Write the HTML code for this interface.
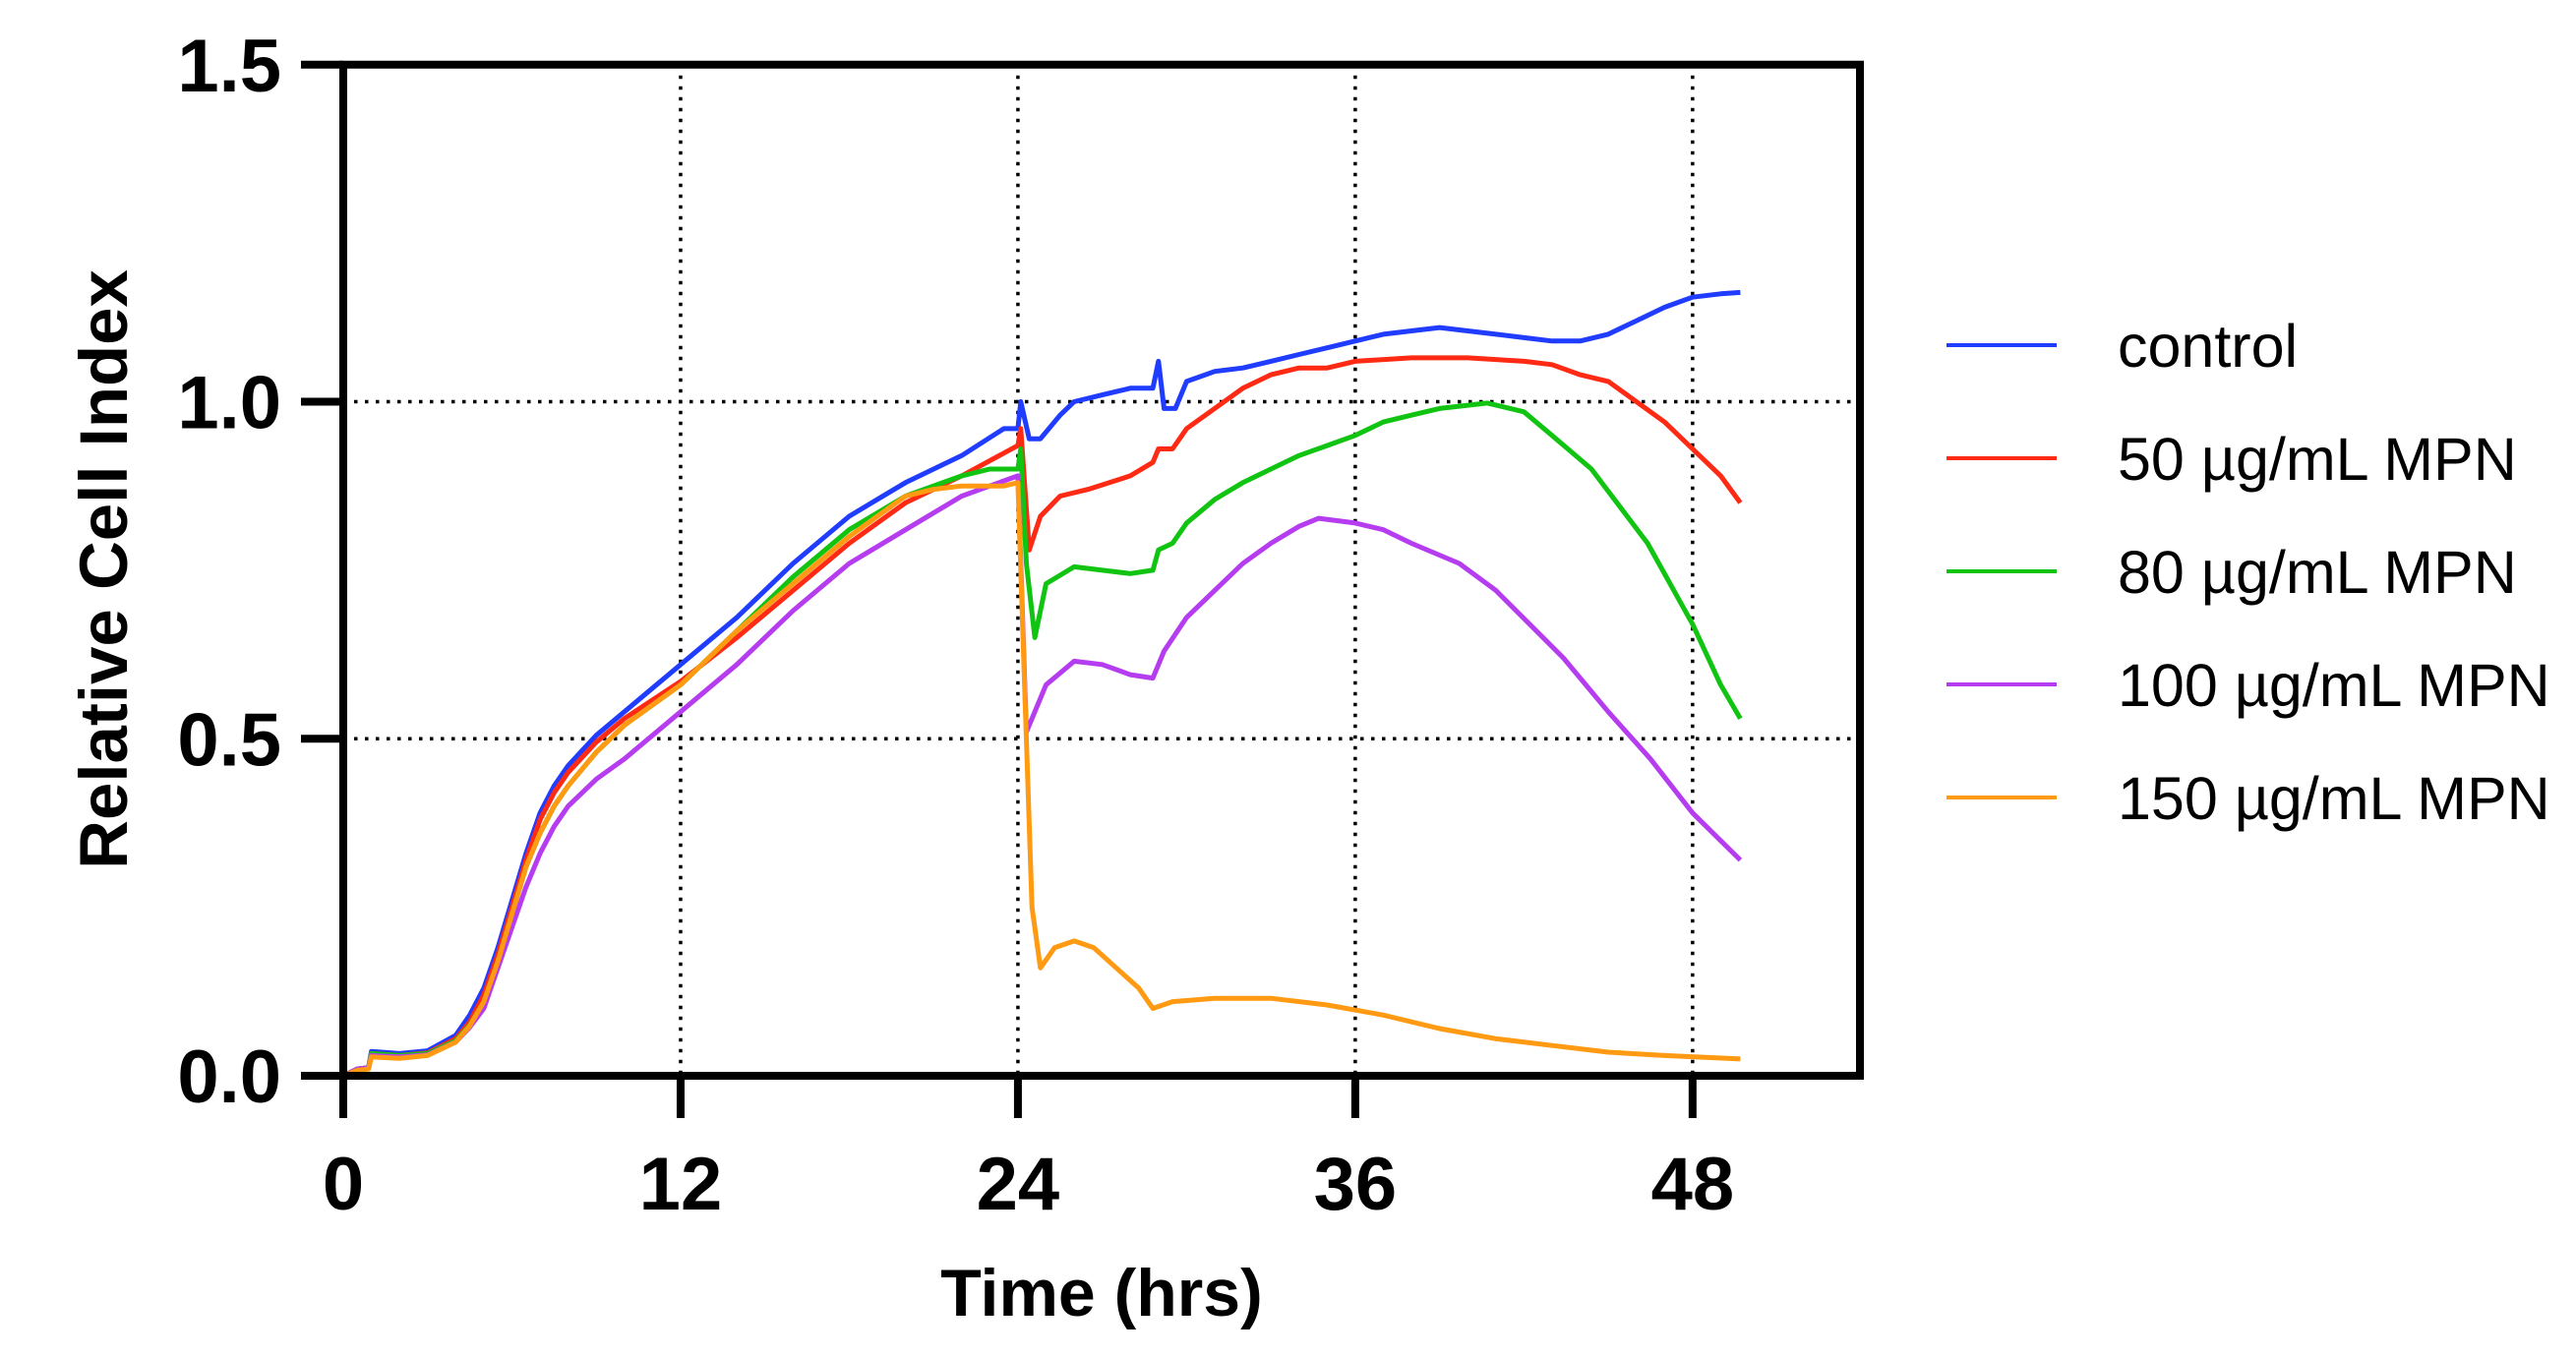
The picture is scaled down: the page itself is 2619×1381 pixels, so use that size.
<!DOCTYPE html>
<html><head><meta charset="utf-8"><style>
html,body{margin:0;padding:0;background:#fff;}
svg{display:block;}
text{font-family:"Liberation Sans",Arial,sans-serif;}
</style></head><body>
<svg id="chart" width="2619" height="1381" viewBox="0 0 2619 1381">
<g id="grid"></g>
<g id="series"></g>
<g id="axes"></g>
<g id="legend"></g>
</svg>
<script>
const xTicks = [0, 12, 24, 36, 48];
const yTicks = [0.0, 0.5, 1.0, 1.5];
const yTickLabels = ["0.0", "0.5", "1.0", "1.5"];
const seriesNames = ["control", "50 µg/mL MPN", "80 µg/mL MPN", "100 µg/mL MPN", "150 µg/mL MPN"];
const seriesColors = ["#1f3cff", "#ff2a14", "#12c412", "#b63cf0", "#ff9a12"];

const controlT = [0,0.5,0.9,1,2,3,4,4.5,5,5.5,6,6.5,7,7.5,8,9,10,12,14,16,18,20,22,23.5,24,24.1,24.4,24.8,25.5,26,27,28,28.8,29,29.2,29.6,30,31,32,33,34,35,36,37,38,39,40,41,42,43,44,45,46,47,48,49,49.7];
const controlV = [0,0.01,0.012,0.036,0.033,0.037,0.06,0.09,0.13,0.19,0.26,0.33,0.39,0.43,0.46,0.505,0.54,0.61,0.68,0.76,0.83,0.88,0.92,0.96,0.96,1.0,0.945,0.945,0.98,1.0,1.01,1.02,1.02,1.06,0.99,0.99,1.03,1.045,1.05,1.06,1.07,1.08,1.09,1.1,1.105,1.11,1.105,1.1,1.095,1.09,1.09,1.1,1.12,1.14,1.155,1.16,1.162];

const mpn50T = [0,0.5,0.9,1,2,3,4,4.5,5,5.5,6,6.5,7,7.5,8,9,10,12,14,16,18,20,22,24,24.1,24.4,24.8,25.5,26.5,28,28.8,29,29.5,30,31,32,33,34,35,36,38,40,42,43,44,45,46,47,48,49,49.7];
const mpn50V = [0,0.01,0.012,0.033,0.03,0.034,0.055,0.08,0.12,0.18,0.25,0.32,0.38,0.42,0.45,0.495,0.53,0.585,0.65,0.72,0.79,0.85,0.89,0.935,0.96,0.78,0.83,0.86,0.87,0.89,0.91,0.93,0.93,0.96,0.99,1.02,1.04,1.05,1.05,1.06,1.065,1.065,1.06,1.055,1.04,1.03,1.0,0.97,0.93,0.89,0.85];

const mpn80T = [0,0.5,0.9,1,2,3,4,4.5,5,5.5,6,6.5,7,7.5,8,9,10,12,14,16,18,20,22,23,24,24.1,24.3,24.6,25,26,27,28,28.8,29,29.5,30,31,32,33,34,35,36,37,38,39,40.7,42,43,44.4,46.4,48,49,49.7];
const mpn80V = [0,0.01,0.012,0.033,0.03,0.033,0.052,0.075,0.11,0.17,0.24,0.31,0.36,0.4,0.43,0.48,0.52,0.58,0.66,0.74,0.81,0.86,0.89,0.9,0.9,0.93,0.76,0.65,0.73,0.755,0.75,0.745,0.75,0.78,0.79,0.82,0.855,0.88,0.9,0.92,0.935,0.95,0.97,0.98,0.99,0.998,0.985,0.95,0.9,0.79,0.67,0.58,0.53];

const mpn100T = [0,0.5,0.9,1,2,3,4,4.5,5,5.5,6,6.5,7,7.5,8,9,10,12,14,16,18,20,22,23,24,24.3,25,26,27,28,28.8,29.2,30,31,32,33,34,34.7,36,37,38,39.7,41,43.4,45,46.5,48,49.7];
const mpn100V = [0,0.01,0.012,0.03,0.028,0.031,0.05,0.072,0.1,0.16,0.22,0.28,0.33,0.37,0.4,0.44,0.47,0.54,0.61,0.69,0.76,0.81,0.86,0.875,0.89,0.51,0.58,0.615,0.61,0.595,0.59,0.63,0.68,0.72,0.76,0.79,0.815,0.827,0.82,0.81,0.79,0.76,0.72,0.62,0.54,0.47,0.39,0.32];

const mpn150T = [0,0.5,0.9,1,2,3,4,4.5,5,5.5,6,6.5,7,7.5,8,9,10,12,14,16,18,20,21,22,23.5,24,24.3,24.5,24.8,25.3,26,26.7,27.5,28.3,28.8,29.5,31,33,35,37,39,41,43,45,47,49.7];
const mpn150V = [0,0.008,0.01,0.028,0.026,0.03,0.05,0.074,0.11,0.17,0.24,0.31,0.36,0.4,0.43,0.48,0.52,0.58,0.66,0.73,0.8,0.86,0.87,0.875,0.875,0.88,0.5,0.25,0.16,0.19,0.2,0.19,0.16,0.13,0.1,0.11,0.115,0.115,0.105,0.09,0.07,0.055,0.045,0.035,0.03,0.025];

const seriesT = [controlT, mpn50T, mpn80T, mpn100T, mpn150T];
const seriesV = [controlV, mpn50V, mpn80V, mpn100V, mpn150V];
const seriesKeys = ["control", "mpn-50", "mpn-80", "mpn-100", "mpn-150"];

const NS = "http://www.w3.org/2000/svg";
const X0 = 349, XS = 28.58, Y0 = 1094, YS = 685.5;
const xScale = t => X0 + t * XS;
const yScale = v => Y0 - v * YS;
const pLeft = 349, pRight = 1891, pTop = yScale(1.5), pBottom = Y0;

function mk(tag, attrs, parent) {
  const e = document.createElementNS(NS, tag);
  for (const k in attrs) e.setAttribute(k, attrs[k]);
  parent.appendChild(e);
  return e;
}
const gridG = document.getElementById('grid');
const axesG = document.getElementById('axes');
const seriesG = document.getElementById('series');
const legendG = document.getElementById('legend');

[12, 24, 36, 48].forEach(t => {
  const l = mk('line', {x1: xScale(t), x2: xScale(t), y1: pTop, y2: pBottom, stroke: '#000', 'stroke-width': 3.5, 'stroke-dasharray': '3.5 7.5'}, gridG);
  
  
});
[0.5, 1.0].forEach(v => {
  const l = mk('line', {x1: pLeft, x2: pRight, y1: yScale(v), y2: yScale(v), stroke: '#000', 'stroke-width': 3.5, 'stroke-dasharray': '3.5 7.5'}, gridG);
  
  
});

seriesT.forEach((ts, i) => {
  const pts = ts.map((t, j) => xScale(t).toFixed(1) + ',' + yScale(seriesV[i][j]).toFixed(1)).join(' ');
  const p = mk('polyline', {points: pts, fill: 'none', stroke: seriesColors[i], 'stroke-width': 5, 'stroke-linejoin': 'round'}, seriesG);
  
  
});

const frame = mk('rect', {x: pLeft, y: pTop, width: pRight - pLeft, height: pBottom - pTop, fill: 'none', stroke: '#000', 'stroke-width': 8}, axesG);



xTicks.forEach(t => {
  const tk = mk('line', {x1: xScale(t), x2: xScale(t), y1: pBottom, y2: 1137, stroke: '#000', 'stroke-width': 8}, axesG);
  
  
  const lb = mk('text', {x: xScale(t), y: 1230, 'text-anchor': 'middle', 'font-size': 76, 'font-weight': 'bold'}, axesG);
  lb.textContent = String(t);
  
  
});
yTicks.forEach((v, i) => {
  const tk = mk('line', {x1: 306, x2: pLeft, y1: yScale(v), y2: yScale(v), stroke: '#000', 'stroke-width': 8}, axesG);
  
  
  const lb = mk('text', {x: 286, y: yScale(v) + 27, 'text-anchor': 'end', 'font-size': 76, 'font-weight': 'bold'}, axesG);
  lb.textContent = yTickLabels[i];
  
  
});

const xt = mk('text', {x: 1120, y: 1338, 'text-anchor': 'middle', 'font-size': 68, 'font-weight': 'bold'}, axesG);
xt.textContent = 'Time (hrs)';


const yt = mk('text', {x: 0, y: 0, 'text-anchor': 'middle', 'font-size': 69, 'font-weight': 'bold', transform: 'translate(129,579) rotate(-90)'}, axesG);
yt.textContent = 'Relative Cell Index';



const legendY = [351, 466, 581, 696, 811];
seriesNames.forEach((n, i) => {
  const g = mk('g', {}, legendG);
  
  
  mk('line', {x1: 1979, x2: 2091, y1: legendY[i], y2: legendY[i], stroke: seriesColors[i], 'stroke-width': 4}, g);
  const t = mk('text', {x: 2153, y: legendY[i] + 22, 'font-size': 61}, g);
  t.textContent = n;
});
</script>
</body></html>
